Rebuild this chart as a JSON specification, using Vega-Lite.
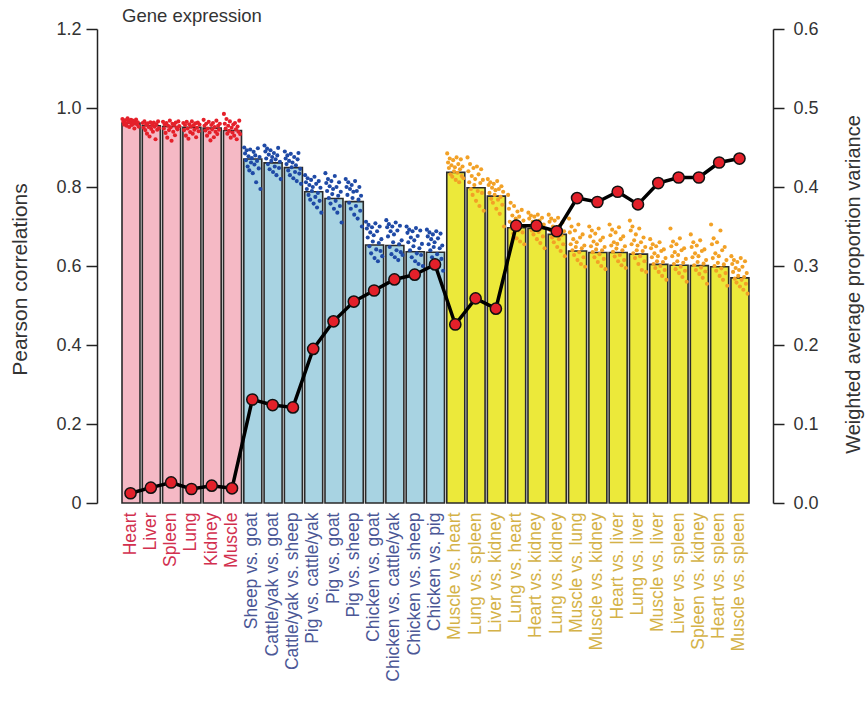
{
"$schema": "https://vega.github.io/schema/vega-lite/v6.json",
"width": 676, "height": 474,
"autosize": "none",
"padding": {"left": 97, "top": 29, "right": 93, "bottom": 209},
"background": "white",
"title": {"text": "Gene expression", "anchor": "start", "frame": "group", "dx": 25, "offset": -5, "fontSize": 18.5, "fontWeight": "normal", "font": "Liberation Sans", "color": "#333333"},
"config": {"view": {"stroke": null}, "axis": {"labelFont": "Liberation Sans", "titleFont": "Liberation Sans", "labelColor": "#333333", "titleColor": "#333333", "titleFontWeight": "normal", "domainColor": "#222222", "tickColor": "#222222", "domainWidth": 1.5, "tickWidth": 1.5, "grid": false}},
"datasets": {
"bars": [
{"cat":"Heart","grp":"Tissue","r":0.962,"w":0.0123},
{"cat":"Liver","grp":"Tissue","r":0.955,"w":0.0194},
{"cat":"Spleen","grp":"Tissue","r":0.953,"w":0.026},
{"cat":"Lung","grp":"Tissue","r":0.951,"w":0.0177},
{"cat":"Kidney","grp":"Tissue","r":0.949,"w":0.0219},
{"cat":"Muscle","grp":"Tissue","r":0.943,"w":0.0186},
{"cat":"Sheep vs. goat","grp":"Species","r":0.871,"w":0.131},
{"cat":"Cattle/yak vs. goat","grp":"Species","r":0.861,"w":0.124},
{"cat":"Cattle/yak vs. sheep","grp":"Species","r":0.849,"w":0.121},
{"cat":"Pig vs. cattle/yak","grp":"Species","r":0.788,"w":0.195},
{"cat":"Pig vs. goat","grp":"Species","r":0.771,"w":0.230},
{"cat":"Pig vs. sheep","grp":"Species","r":0.763,"w":0.255},
{"cat":"Chicken vs. goat","grp":"Species","r":0.653,"w":0.269},
{"cat":"Chicken vs. cattle/yak","grp":"Species","r":0.652,"w":0.283},
{"cat":"Chicken vs. sheep","grp":"Species","r":0.636,"w":0.289},
{"cat":"Chicken vs. pig","grp":"Species","r":0.635,"w":0.302},
{"cat":"Muscle vs. heart","grp":"Pair","r":0.837,"w":0.226},
{"cat":"Lung vs. spleen","grp":"Pair","r":0.798,"w":0.259},
{"cat":"Liver vs. kidney","grp":"Pair","r":0.777,"w":0.246},
{"cat":"Lung vs. heart","grp":"Pair","r":0.697,"w":0.351},
{"cat":"Heart vs. kidney","grp":"Pair","r":0.695,"w":0.351},
{"cat":"Lung vs. kidney","grp":"Pair","r":0.680,"w":0.344},
{"cat":"Muscle vs. lung","grp":"Pair","r":0.638,"w":0.386},
{"cat":"Muscle vs. kidney","grp":"Pair","r":0.634,"w":0.381},
{"cat":"Heart vs. liver","grp":"Pair","r":0.634,"w":0.394},
{"cat":"Lung vs. liver","grp":"Pair","r":0.630,"w":0.378},
{"cat":"Muscle vs. liver","grp":"Pair","r":0.604,"w":0.405},
{"cat":"Liver vs. spleen","grp":"Pair","r":0.602,"w":0.412},
{"cat":"Spleen vs. kidney","grp":"Pair","r":0.601,"w":0.412},
{"cat":"Heart vs. spleen","grp":"Pair","r":0.598,"w":0.431},
{"cat":"Muscle vs. spleen","grp":"Pair","r":0.570,"w":0.436}
],
"dots": [
{"cat":"Heart","v":0.972},{"cat":"Heart","v":0.965},{"cat":"Heart","v":0.958},{"cat":"Heart","v":0.969},{"cat":"Heart","v":0.961},{"cat":"Heart","v":0.955},{"cat":"Heart","v":0.974},{"cat":"Heart","v":0.966},{"cat":"Heart","v":0.952},{"cat":"Heart","v":0.963},{"cat":"Heart","v":0.970},{"cat":"Heart","v":0.957},{"cat":"Heart","v":0.968},{"cat":"Heart","v":0.960},{"cat":"Heart","v":0.948},{"cat":"Heart","v":0.966},{"cat":"Heart","v":0.971},{"cat":"Heart","v":0.959},{"cat":"Heart","v":0.964},{"cat":"Heart","v":0.953},
{"cat":"Liver","v":0.962},{"cat":"Liver","v":0.950},{"cat":"Liver","v":0.966},{"cat":"Liver","v":0.944},{"cat":"Liver","v":0.958},{"cat":"Liver","v":0.935},{"cat":"Liver","v":0.961},{"cat":"Liver","v":0.952},{"cat":"Liver","v":0.928},{"cat":"Liver","v":0.964},{"cat":"Liver","v":0.947},{"cat":"Liver","v":0.957},{"cat":"Liver","v":0.940},{"cat":"Liver","v":0.963},{"cat":"Liver","v":0.953},{"cat":"Liver","v":0.921},{"cat":"Liver","v":0.959},{"cat":"Liver","v":0.945},{"cat":"Liver","v":0.966},{"cat":"Liver","v":0.949},
{"cat":"Spleen","v":0.965},{"cat":"Spleen","v":0.948},{"cat":"Spleen","v":0.958},{"cat":"Spleen","v":0.937},{"cat":"Spleen","v":0.962},{"cat":"Spleen","v":0.925},{"cat":"Spleen","v":0.955},{"cat":"Spleen","v":0.944},{"cat":"Spleen","v":0.968},{"cat":"Spleen","v":0.951},{"cat":"Spleen","v":0.917},{"cat":"Spleen","v":0.960},{"cat":"Spleen","v":0.940},{"cat":"Spleen","v":0.957},{"cat":"Spleen","v":0.931},{"cat":"Spleen","v":0.963},{"cat":"Spleen","v":0.950},{"cat":"Spleen","v":0.946},{"cat":"Spleen","v":0.966},{"cat":"Spleen","v":0.954},
{"cat":"Lung","v":0.962},{"cat":"Lung","v":0.944},{"cat":"Lung","v":0.957},{"cat":"Lung","v":0.930},{"cat":"Lung","v":0.965},{"cat":"Lung","v":0.948},{"cat":"Lung","v":0.922},{"cat":"Lung","v":0.959},{"cat":"Lung","v":0.939},{"cat":"Lung","v":0.953},{"cat":"Lung","v":0.966},{"cat":"Lung","v":0.935},{"cat":"Lung","v":0.956},{"cat":"Lung","v":0.945},{"cat":"Lung","v":0.961},{"cat":"Lung","v":0.926},{"cat":"Lung","v":0.950},{"cat":"Lung","v":0.963},{"cat":"Lung","v":0.941},{"cat":"Lung","v":0.958},
{"cat":"Kidney","v":0.970},{"cat":"Kidney","v":0.955},{"cat":"Kidney","v":0.943},{"cat":"Kidney","v":0.960},{"cat":"Kidney","v":0.930},{"cat":"Kidney","v":0.948},{"cat":"Kidney","v":0.965},{"cat":"Kidney","v":0.938},{"cat":"Kidney","v":0.918},{"cat":"Kidney","v":0.957},{"cat":"Kidney","v":0.946},{"cat":"Kidney","v":0.962},{"cat":"Kidney","v":0.926},{"cat":"Kidney","v":0.952},{"cat":"Kidney","v":0.940},{"cat":"Kidney","v":0.968},{"cat":"Kidney","v":0.934},{"cat":"Kidney","v":0.955},{"cat":"Kidney","v":0.945},{"cat":"Kidney","v":0.960},
{"cat":"Muscle","v":0.985},{"cat":"Muscle","v":0.960},{"cat":"Muscle","v":0.948},{"cat":"Muscle","v":0.972},{"cat":"Muscle","v":0.935},{"cat":"Muscle","v":0.955},{"cat":"Muscle","v":0.942},{"cat":"Muscle","v":0.966},{"cat":"Muscle","v":0.925},{"cat":"Muscle","v":0.950},{"cat":"Muscle","v":0.938},{"cat":"Muscle","v":0.958},{"cat":"Muscle","v":0.930},{"cat":"Muscle","v":0.962},{"cat":"Muscle","v":0.946},{"cat":"Muscle","v":0.921},{"cat":"Muscle","v":0.953},{"cat":"Muscle","v":0.940},{"cat":"Muscle","v":0.968},{"cat":"Muscle","v":0.934},
{"cat":"Sheep vs. goat","v":0.900},{"cat":"Sheep vs. goat","v":0.885},{"cat":"Sheep vs. goat","v":0.868},{"cat":"Sheep vs. goat","v":0.893},{"cat":"Sheep vs. goat","v":0.852},{"cat":"Sheep vs. goat","v":0.878},{"cat":"Sheep vs. goat","v":0.842},{"cat":"Sheep vs. goat","v":0.895},{"cat":"Sheep vs. goat","v":0.862},{"cat":"Sheep vs. goat","v":0.873},{"cat":"Sheep vs. goat","v":0.835},{"cat":"Sheep vs. goat","v":0.889},{"cat":"Sheep vs. goat","v":0.857},{"cat":"Sheep vs. goat","v":0.880},{"cat":"Sheep vs. goat","v":0.812},{"cat":"Sheep vs. goat","v":0.866},{"cat":"Sheep vs. goat","v":0.898},{"cat":"Sheep vs. goat","v":0.847},{"cat":"Sheep vs. goat","v":0.876},{"cat":"Sheep vs. goat","v":0.795},
{"cat":"Cattle/yak vs. goat","v":0.905},{"cat":"Cattle/yak vs. goat","v":0.890},{"cat":"Cattle/yak vs. goat","v":0.872},{"cat":"Cattle/yak vs. goat","v":0.897},{"cat":"Cattle/yak vs. goat","v":0.858},{"cat":"Cattle/yak vs. goat","v":0.882},{"cat":"Cattle/yak vs. goat","v":0.845},{"cat":"Cattle/yak vs. goat","v":0.893},{"cat":"Cattle/yak vs. goat","v":0.866},{"cat":"Cattle/yak vs. goat","v":0.876},{"cat":"Cattle/yak vs. goat","v":0.838},{"cat":"Cattle/yak vs. goat","v":0.886},{"cat":"Cattle/yak vs. goat","v":0.852},{"cat":"Cattle/yak vs. goat","v":0.870},{"cat":"Cattle/yak vs. goat","v":0.830},{"cat":"Cattle/yak vs. goat","v":0.880},{"cat":"Cattle/yak vs. goat","v":0.899},{"cat":"Cattle/yak vs. goat","v":0.848},{"cat":"Cattle/yak vs. goat","v":0.864},{"cat":"Cattle/yak vs. goat","v":0.820},
{"cat":"Cattle/yak vs. sheep","v":0.890},{"cat":"Cattle/yak vs. sheep","v":0.872},{"cat":"Cattle/yak vs. sheep","v":0.858},{"cat":"Cattle/yak vs. sheep","v":0.880},{"cat":"Cattle/yak vs. sheep","v":0.842},{"cat":"Cattle/yak vs. sheep","v":0.866},{"cat":"Cattle/yak vs. sheep","v":0.830},{"cat":"Cattle/yak vs. sheep","v":0.884},{"cat":"Cattle/yak vs. sheep","v":0.850},{"cat":"Cattle/yak vs. sheep","v":0.862},{"cat":"Cattle/yak vs. sheep","v":0.822},{"cat":"Cattle/yak vs. sheep","v":0.876},{"cat":"Cattle/yak vs. sheep","v":0.838},{"cat":"Cattle/yak vs. sheep","v":0.855},{"cat":"Cattle/yak vs. sheep","v":0.815},{"cat":"Cattle/yak vs. sheep","v":0.870},{"cat":"Cattle/yak vs. sheep","v":0.886},{"cat":"Cattle/yak vs. sheep","v":0.834},{"cat":"Cattle/yak vs. sheep","v":0.846},{"cat":"Cattle/yak vs. sheep","v":0.808},
{"cat":"Pig vs. cattle/yak","v":0.830},{"cat":"Pig vs. cattle/yak","v":0.812},{"cat":"Pig vs. cattle/yak","v":0.795},{"cat":"Pig vs. cattle/yak","v":0.822},{"cat":"Pig vs. cattle/yak","v":0.780},{"cat":"Pig vs. cattle/yak","v":0.805},{"cat":"Pig vs. cattle/yak","v":0.768},{"cat":"Pig vs. cattle/yak","v":0.818},{"cat":"Pig vs. cattle/yak","v":0.790},{"cat":"Pig vs. cattle/yak","v":0.800},{"cat":"Pig vs. cattle/yak","v":0.758},{"cat":"Pig vs. cattle/yak","v":0.826},{"cat":"Pig vs. cattle/yak","v":0.775},{"cat":"Pig vs. cattle/yak","v":0.808},{"cat":"Pig vs. cattle/yak","v":0.748},{"cat":"Pig vs. cattle/yak","v":0.785},{"cat":"Pig vs. cattle/yak","v":0.815},{"cat":"Pig vs. cattle/yak","v":0.765},{"cat":"Pig vs. cattle/yak","v":0.798},{"cat":"Pig vs. cattle/yak","v":0.735},
{"cat":"Pig vs. goat","v":0.835},{"cat":"Pig vs. goat","v":0.810},{"cat":"Pig vs. goat","v":0.790},{"cat":"Pig vs. goat","v":0.820},{"cat":"Pig vs. goat","v":0.772},{"cat":"Pig vs. goat","v":0.802},{"cat":"Pig vs. goat","v":0.758},{"cat":"Pig vs. goat","v":0.815},{"cat":"Pig vs. goat","v":0.782},{"cat":"Pig vs. goat","v":0.795},{"cat":"Pig vs. goat","v":0.745},{"cat":"Pig vs. goat","v":0.828},{"cat":"Pig vs. goat","v":0.765},{"cat":"Pig vs. goat","v":0.800},{"cat":"Pig vs. goat","v":0.735},{"cat":"Pig vs. goat","v":0.778},{"cat":"Pig vs. goat","v":0.812},{"cat":"Pig vs. goat","v":0.752},{"cat":"Pig vs. goat","v":0.788},{"cat":"Pig vs. goat","v":0.710},
{"cat":"Pig vs. sheep","v":0.820},{"cat":"Pig vs. sheep","v":0.800},{"cat":"Pig vs. sheep","v":0.780},{"cat":"Pig vs. sheep","v":0.812},{"cat":"Pig vs. sheep","v":0.760},{"cat":"Pig vs. sheep","v":0.795},{"cat":"Pig vs. sheep","v":0.745},{"cat":"Pig vs. sheep","v":0.805},{"cat":"Pig vs. sheep","v":0.772},{"cat":"Pig vs. sheep","v":0.788},{"cat":"Pig vs. sheep","v":0.730},{"cat":"Pig vs. sheep","v":0.815},{"cat":"Pig vs. sheep","v":0.752},{"cat":"Pig vs. sheep","v":0.790},{"cat":"Pig vs. sheep","v":0.720},{"cat":"Pig vs. sheep","v":0.768},{"cat":"Pig vs. sheep","v":0.800},{"cat":"Pig vs. sheep","v":0.740},{"cat":"Pig vs. sheep","v":0.778},{"cat":"Pig vs. sheep","v":0.700},
{"cat":"Chicken vs. goat","v":0.712},{"cat":"Chicken vs. goat","v":0.695},{"cat":"Chicken vs. goat","v":0.672},{"cat":"Chicken vs. goat","v":0.704},{"cat":"Chicken vs. goat","v":0.650},{"cat":"Chicken vs. goat","v":0.685},{"cat":"Chicken vs. goat","v":0.632},{"cat":"Chicken vs. goat","v":0.698},{"cat":"Chicken vs. goat","v":0.662},{"cat":"Chicken vs. goat","v":0.678},{"cat":"Chicken vs. goat","v":0.620},{"cat":"Chicken vs. goat","v":0.708},{"cat":"Chicken vs. goat","v":0.642},{"cat":"Chicken vs. goat","v":0.688},{"cat":"Chicken vs. goat","v":0.612},{"cat":"Chicken vs. goat","v":0.658},{"cat":"Chicken vs. goat","v":0.700},{"cat":"Chicken vs. goat","v":0.638},{"cat":"Chicken vs. goat","v":0.668},{"cat":"Chicken vs. goat","v":0.625},
{"cat":"Chicken vs. cattle/yak","v":0.716},{"cat":"Chicken vs. cattle/yak","v":0.698},{"cat":"Chicken vs. cattle/yak","v":0.675},{"cat":"Chicken vs. cattle/yak","v":0.706},{"cat":"Chicken vs. cattle/yak","v":0.648},{"cat":"Chicken vs. cattle/yak","v":0.688},{"cat":"Chicken vs. cattle/yak","v":0.630},{"cat":"Chicken vs. cattle/yak","v":0.700},{"cat":"Chicken vs. cattle/yak","v":0.660},{"cat":"Chicken vs. cattle/yak","v":0.680},{"cat":"Chicken vs. cattle/yak","v":0.622},{"cat":"Chicken vs. cattle/yak","v":0.710},{"cat":"Chicken vs. cattle/yak","v":0.640},{"cat":"Chicken vs. cattle/yak","v":0.690},{"cat":"Chicken vs. cattle/yak","v":0.615},{"cat":"Chicken vs. cattle/yak","v":0.655},{"cat":"Chicken vs. cattle/yak","v":0.702},{"cat":"Chicken vs. cattle/yak","v":0.635},{"cat":"Chicken vs. cattle/yak","v":0.665},{"cat":"Chicken vs. cattle/yak","v":0.628},
{"cat":"Chicken vs. sheep","v":0.700},{"cat":"Chicken vs. sheep","v":0.684},{"cat":"Chicken vs. sheep","v":0.660},{"cat":"Chicken vs. sheep","v":0.692},{"cat":"Chicken vs. sheep","v":0.640},{"cat":"Chicken vs. sheep","v":0.672},{"cat":"Chicken vs. sheep","v":0.622},{"cat":"Chicken vs. sheep","v":0.688},{"cat":"Chicken vs. sheep","v":0.650},{"cat":"Chicken vs. sheep","v":0.665},{"cat":"Chicken vs. sheep","v":0.612},{"cat":"Chicken vs. sheep","v":0.696},{"cat":"Chicken vs. sheep","v":0.632},{"cat":"Chicken vs. sheep","v":0.676},{"cat":"Chicken vs. sheep","v":0.605},{"cat":"Chicken vs. sheep","v":0.645},{"cat":"Chicken vs. sheep","v":0.690},{"cat":"Chicken vs. sheep","v":0.628},{"cat":"Chicken vs. sheep","v":0.656},{"cat":"Chicken vs. sheep","v":0.600},
{"cat":"Chicken vs. pig","v":0.692},{"cat":"Chicken vs. pig","v":0.675},{"cat":"Chicken vs. pig","v":0.655},{"cat":"Chicken vs. pig","v":0.685},{"cat":"Chicken vs. pig","v":0.640},{"cat":"Chicken vs. pig","v":0.668},{"cat":"Chicken vs. pig","v":0.622},{"cat":"Chicken vs. pig","v":0.680},{"cat":"Chicken vs. pig","v":0.648},{"cat":"Chicken vs. pig","v":0.660},{"cat":"Chicken vs. pig","v":0.610},{"cat":"Chicken vs. pig","v":0.688},{"cat":"Chicken vs. pig","v":0.630},{"cat":"Chicken vs. pig","v":0.670},{"cat":"Chicken vs. pig","v":0.600},{"cat":"Chicken vs. pig","v":0.645},{"cat":"Chicken vs. pig","v":0.682},{"cat":"Chicken vs. pig","v":0.618},{"cat":"Chicken vs. pig","v":0.652},{"cat":"Chicken vs. pig","v":0.588},
{"cat":"Muscle vs. heart","v":0.885},{"cat":"Muscle vs. heart","v":0.862},{"cat":"Muscle vs. heart","v":0.848},{"cat":"Muscle vs. heart","v":0.872},{"cat":"Muscle vs. heart","v":0.832},{"cat":"Muscle vs. heart","v":0.855},{"cat":"Muscle vs. heart","v":0.826},{"cat":"Muscle vs. heart","v":0.868},{"cat":"Muscle vs. heart","v":0.840},{"cat":"Muscle vs. heart","v":0.850},{"cat":"Muscle vs. heart","v":0.818},{"cat":"Muscle vs. heart","v":0.875},{"cat":"Muscle vs. heart","v":0.836},{"cat":"Muscle vs. heart","v":0.858},{"cat":"Muscle vs. heart","v":0.812},{"cat":"Muscle vs. heart","v":0.845},{"cat":"Muscle vs. heart","v":0.870},{"cat":"Muscle vs. heart","v":0.828},{"cat":"Muscle vs. heart","v":0.852},{"cat":"Muscle vs. heart","v":0.822},
{"cat":"Lung vs. spleen","v":0.875},{"cat":"Lung vs. spleen","v":0.840},{"cat":"Lung vs. spleen","v":0.812},{"cat":"Lung vs. spleen","v":0.858},{"cat":"Lung vs. spleen","v":0.795},{"cat":"Lung vs. spleen","v":0.828},{"cat":"Lung vs. spleen","v":0.780},{"cat":"Lung vs. spleen","v":0.848},{"cat":"Lung vs. spleen","v":0.805},{"cat":"Lung vs. spleen","v":0.820},{"cat":"Lung vs. spleen","v":0.765},{"cat":"Lung vs. spleen","v":0.852},{"cat":"Lung vs. spleen","v":0.790},{"cat":"Lung vs. spleen","v":0.832},{"cat":"Lung vs. spleen","v":0.752},{"cat":"Lung vs. spleen","v":0.810},{"cat":"Lung vs. spleen","v":0.845},{"cat":"Lung vs. spleen","v":0.785},{"cat":"Lung vs. spleen","v":0.818},{"cat":"Lung vs. spleen","v":0.740},
{"cat":"Liver vs. kidney","v":0.820},{"cat":"Liver vs. kidney","v":0.805},{"cat":"Liver vs. kidney","v":0.785},{"cat":"Liver vs. kidney","v":0.812},{"cat":"Liver vs. kidney","v":0.770},{"cat":"Liver vs. kidney","v":0.798},{"cat":"Liver vs. kidney","v":0.760},{"cat":"Liver vs. kidney","v":0.808},{"cat":"Liver vs. kidney","v":0.780},{"cat":"Liver vs. kidney","v":0.792},{"cat":"Liver vs. kidney","v":0.745},{"cat":"Liver vs. kidney","v":0.815},{"cat":"Liver vs. kidney","v":0.768},{"cat":"Liver vs. kidney","v":0.795},{"cat":"Liver vs. kidney","v":0.732},{"cat":"Liver vs. kidney","v":0.775},{"cat":"Liver vs. kidney","v":0.802},{"cat":"Liver vs. kidney","v":0.755},{"cat":"Liver vs. kidney","v":0.788},{"cat":"Liver vs. kidney","v":0.700},
{"cat":"Lung vs. heart","v":0.780},{"cat":"Lung vs. heart","v":0.745},{"cat":"Lung vs. heart","v":0.712},{"cat":"Lung vs. heart","v":0.760},{"cat":"Lung vs. heart","v":0.695},{"cat":"Lung vs. heart","v":0.728},{"cat":"Lung vs. heart","v":0.682},{"cat":"Lung vs. heart","v":0.752},{"cat":"Lung vs. heart","v":0.705},{"cat":"Lung vs. heart","v":0.720},{"cat":"Lung vs. heart","v":0.670},{"cat":"Lung vs. heart","v":0.738},{"cat":"Lung vs. heart","v":0.690},{"cat":"Lung vs. heart","v":0.725},{"cat":"Lung vs. heart","v":0.662},{"cat":"Lung vs. heart","v":0.700},{"cat":"Lung vs. heart","v":0.742},{"cat":"Lung vs. heart","v":0.685},{"cat":"Lung vs. heart","v":0.715},{"cat":"Lung vs. heart","v":0.655},
{"cat":"Heart vs. kidney","v":0.735},{"cat":"Heart vs. kidney","v":0.720},{"cat":"Heart vs. kidney","v":0.702},{"cat":"Heart vs. kidney","v":0.728},{"cat":"Heart vs. kidney","v":0.690},{"cat":"Heart vs. kidney","v":0.712},{"cat":"Heart vs. kidney","v":0.680},{"cat":"Heart vs. kidney","v":0.725},{"cat":"Heart vs. kidney","v":0.698},{"cat":"Heart vs. kidney","v":0.708},{"cat":"Heart vs. kidney","v":0.668},{"cat":"Heart vs. kidney","v":0.730},{"cat":"Heart vs. kidney","v":0.686},{"cat":"Heart vs. kidney","v":0.715},{"cat":"Heart vs. kidney","v":0.658},{"cat":"Heart vs. kidney","v":0.695},{"cat":"Heart vs. kidney","v":0.722},{"cat":"Heart vs. kidney","v":0.675},{"cat":"Heart vs. kidney","v":0.705},{"cat":"Heart vs. kidney","v":0.645},
{"cat":"Lung vs. kidney","v":0.730},{"cat":"Lung vs. kidney","v":0.712},{"cat":"Lung vs. kidney","v":0.690},{"cat":"Lung vs. kidney","v":0.720},{"cat":"Lung vs. kidney","v":0.672},{"cat":"Lung vs. kidney","v":0.700},{"cat":"Lung vs. kidney","v":0.660},{"cat":"Lung vs. kidney","v":0.715},{"cat":"Lung vs. kidney","v":0.682},{"cat":"Lung vs. kidney","v":0.695},{"cat":"Lung vs. kidney","v":0.648},{"cat":"Lung vs. kidney","v":0.722},{"cat":"Lung vs. kidney","v":0.668},{"cat":"Lung vs. kidney","v":0.702},{"cat":"Lung vs. kidney","v":0.638},{"cat":"Lung vs. kidney","v":0.678},{"cat":"Lung vs. kidney","v":0.710},{"cat":"Lung vs. kidney","v":0.655},{"cat":"Lung vs. kidney","v":0.688},{"cat":"Lung vs. kidney","v":0.625},
{"cat":"Muscle vs. lung","v":0.720},{"cat":"Muscle vs. lung","v":0.685},{"cat":"Muscle vs. lung","v":0.655},{"cat":"Muscle vs. lung","v":0.700},{"cat":"Muscle vs. lung","v":0.640},{"cat":"Muscle vs. lung","v":0.668},{"cat":"Muscle vs. lung","v":0.628},{"cat":"Muscle vs. lung","v":0.690},{"cat":"Muscle vs. lung","v":0.648},{"cat":"Muscle vs. lung","v":0.660},{"cat":"Muscle vs. lung","v":0.615},{"cat":"Muscle vs. lung","v":0.705},{"cat":"Muscle vs. lung","v":0.635},{"cat":"Muscle vs. lung","v":0.672},{"cat":"Muscle vs. lung","v":0.605},{"cat":"Muscle vs. lung","v":0.645},{"cat":"Muscle vs. lung","v":0.680},{"cat":"Muscle vs. lung","v":0.622},{"cat":"Muscle vs. lung","v":0.652},{"cat":"Muscle vs. lung","v":0.598},
{"cat":"Muscle vs. kidney","v":0.700},{"cat":"Muscle vs. kidney","v":0.675},{"cat":"Muscle vs. kidney","v":0.650},{"cat":"Muscle vs. kidney","v":0.690},{"cat":"Muscle vs. kidney","v":0.635},{"cat":"Muscle vs. kidney","v":0.662},{"cat":"Muscle vs. kidney","v":0.622},{"cat":"Muscle vs. kidney","v":0.682},{"cat":"Muscle vs. kidney","v":0.642},{"cat":"Muscle vs. kidney","v":0.655},{"cat":"Muscle vs. kidney","v":0.610},{"cat":"Muscle vs. kidney","v":0.695},{"cat":"Muscle vs. kidney","v":0.630},{"cat":"Muscle vs. kidney","v":0.665},{"cat":"Muscle vs. kidney","v":0.600},{"cat":"Muscle vs. kidney","v":0.640},{"cat":"Muscle vs. kidney","v":0.672},{"cat":"Muscle vs. kidney","v":0.618},{"cat":"Muscle vs. kidney","v":0.648},{"cat":"Muscle vs. kidney","v":0.592},
{"cat":"Heart vs. liver","v":0.705},{"cat":"Heart vs. liver","v":0.678},{"cat":"Heart vs. liver","v":0.652},{"cat":"Heart vs. liver","v":0.692},{"cat":"Heart vs. liver","v":0.636},{"cat":"Heart vs. liver","v":0.660},{"cat":"Heart vs. liver","v":0.624},{"cat":"Heart vs. liver","v":0.685},{"cat":"Heart vs. liver","v":0.644},{"cat":"Heart vs. liver","v":0.656},{"cat":"Heart vs. liver","v":0.612},{"cat":"Heart vs. liver","v":0.698},{"cat":"Heart vs. liver","v":0.628},{"cat":"Heart vs. liver","v":0.668},{"cat":"Heart vs. liver","v":0.602},{"cat":"Heart vs. liver","v":0.640},{"cat":"Heart vs. liver","v":0.675},{"cat":"Heart vs. liver","v":0.615},{"cat":"Heart vs. liver","v":0.650},{"cat":"Heart vs. liver","v":0.595},
{"cat":"Lung vs. liver","v":0.715},{"cat":"Lung vs. liver","v":0.690},{"cat":"Lung vs. liver","v":0.655},{"cat":"Lung vs. liver","v":0.700},{"cat":"Lung vs. liver","v":0.632},{"cat":"Lung vs. liver","v":0.665},{"cat":"Lung vs. liver","v":0.620},{"cat":"Lung vs. liver","v":0.680},{"cat":"Lung vs. liver","v":0.640},{"cat":"Lung vs. liver","v":0.652},{"cat":"Lung vs. liver","v":0.605},{"cat":"Lung vs. liver","v":0.695},{"cat":"Lung vs. liver","v":0.625},{"cat":"Lung vs. liver","v":0.660},{"cat":"Lung vs. liver","v":0.590},{"cat":"Lung vs. liver","v":0.638},{"cat":"Lung vs. liver","v":0.672},{"cat":"Lung vs. liver","v":0.612},{"cat":"Lung vs. liver","v":0.648},{"cat":"Lung vs. liver","v":0.585},
{"cat":"Muscle vs. liver","v":0.668},{"cat":"Muscle vs. liver","v":0.645},{"cat":"Muscle vs. liver","v":0.622},{"cat":"Muscle vs. liver","v":0.655},{"cat":"Muscle vs. liver","v":0.605},{"cat":"Muscle vs. liver","v":0.632},{"cat":"Muscle vs. liver","v":0.595},{"cat":"Muscle vs. liver","v":0.650},{"cat":"Muscle vs. liver","v":0.612},{"cat":"Muscle vs. liver","v":0.625},{"cat":"Muscle vs. liver","v":0.585},{"cat":"Muscle vs. liver","v":0.660},{"cat":"Muscle vs. liver","v":0.600},{"cat":"Muscle vs. liver","v":0.638},{"cat":"Muscle vs. liver","v":0.575},{"cat":"Muscle vs. liver","v":0.610},{"cat":"Muscle vs. liver","v":0.642},{"cat":"Muscle vs. liver","v":0.590},{"cat":"Muscle vs. liver","v":0.620},{"cat":"Muscle vs. liver","v":0.565},
{"cat":"Liver vs. spleen","v":0.695},{"cat":"Liver vs. spleen","v":0.650},{"cat":"Liver vs. spleen","v":0.625},{"cat":"Liver vs. spleen","v":0.662},{"cat":"Liver vs. spleen","v":0.605},{"cat":"Liver vs. spleen","v":0.635},{"cat":"Liver vs. spleen","v":0.592},{"cat":"Liver vs. spleen","v":0.655},{"cat":"Liver vs. spleen","v":0.612},{"cat":"Liver vs. spleen","v":0.628},{"cat":"Liver vs. spleen","v":0.582},{"cat":"Liver vs. spleen","v":0.670},{"cat":"Liver vs. spleen","v":0.598},{"cat":"Liver vs. spleen","v":0.640},{"cat":"Liver vs. spleen","v":0.572},{"cat":"Liver vs. spleen","v":0.608},{"cat":"Liver vs. spleen","v":0.645},{"cat":"Liver vs. spleen","v":0.588},{"cat":"Liver vs. spleen","v":0.618},{"cat":"Liver vs. spleen","v":0.560},
{"cat":"Spleen vs. kidney","v":0.680},{"cat":"Spleen vs. kidney","v":0.648},{"cat":"Spleen vs. kidney","v":0.622},{"cat":"Spleen vs. kidney","v":0.660},{"cat":"Spleen vs. kidney","v":0.602},{"cat":"Spleen vs. kidney","v":0.632},{"cat":"Spleen vs. kidney","v":0.590},{"cat":"Spleen vs. kidney","v":0.652},{"cat":"Spleen vs. kidney","v":0.610},{"cat":"Spleen vs. kidney","v":0.625},{"cat":"Spleen vs. kidney","v":0.580},{"cat":"Spleen vs. kidney","v":0.665},{"cat":"Spleen vs. kidney","v":0.596},{"cat":"Spleen vs. kidney","v":0.638},{"cat":"Spleen vs. kidney","v":0.570},{"cat":"Spleen vs. kidney","v":0.606},{"cat":"Spleen vs. kidney","v":0.642},{"cat":"Spleen vs. kidney","v":0.586},{"cat":"Spleen vs. kidney","v":0.615},{"cat":"Spleen vs. kidney","v":0.555},
{"cat":"Heart vs. spleen","v":0.705},{"cat":"Heart vs. spleen","v":0.655},{"cat":"Heart vs. spleen","v":0.620},{"cat":"Heart vs. spleen","v":0.670},{"cat":"Heart vs. spleen","v":0.600},{"cat":"Heart vs. spleen","v":0.632},{"cat":"Heart vs. spleen","v":0.588},{"cat":"Heart vs. spleen","v":0.660},{"cat":"Heart vs. spleen","v":0.608},{"cat":"Heart vs. spleen","v":0.625},{"cat":"Heart vs. spleen","v":0.575},{"cat":"Heart vs. spleen","v":0.690},{"cat":"Heart vs. spleen","v":0.594},{"cat":"Heart vs. spleen","v":0.640},{"cat":"Heart vs. spleen","v":0.565},{"cat":"Heart vs. spleen","v":0.604},{"cat":"Heart vs. spleen","v":0.648},{"cat":"Heart vs. spleen","v":0.582},{"cat":"Heart vs. spleen","v":0.615},{"cat":"Heart vs. spleen","v":0.550},
{"cat":"Muscle vs. spleen","v":0.625},{"cat":"Muscle vs. spleen","v":0.605},{"cat":"Muscle vs. spleen","v":0.585},{"cat":"Muscle vs. spleen","v":0.615},{"cat":"Muscle vs. spleen","v":0.568},{"cat":"Muscle vs. spleen","v":0.595},{"cat":"Muscle vs. spleen","v":0.558},{"cat":"Muscle vs. spleen","v":0.610},{"cat":"Muscle vs. spleen","v":0.575},{"cat":"Muscle vs. spleen","v":0.590},{"cat":"Muscle vs. spleen","v":0.548},{"cat":"Muscle vs. spleen","v":0.620},{"cat":"Muscle vs. spleen","v":0.565},{"cat":"Muscle vs. spleen","v":0.598},{"cat":"Muscle vs. spleen","v":0.540},{"cat":"Muscle vs. spleen","v":0.572},{"cat":"Muscle vs. spleen","v":0.612},{"cat":"Muscle vs. spleen","v":0.555},{"cat":"Muscle vs. spleen","v":0.582},{"cat":"Muscle vs. spleen","v":0.530}
]
},
"layer": [
{
"layer": [
{
"data": {"name": "bars"},
"mark": {"type": "bar", "stroke": "#2a2a2a", "strokeWidth": 1.6},
"encoding": {
"x": {"field": "cat", "type": "nominal",
"scale": {"domain": ["Heart","Liver","Spleen","Lung","Kidney","Muscle","Sheep vs. goat","Cattle/yak vs. goat","Cattle/yak vs. sheep","Pig vs. cattle/yak","Pig vs. goat","Pig vs. sheep","Chicken vs. goat","Chicken vs. cattle/yak","Chicken vs. sheep","Chicken vs. pig","Muscle vs. heart","Lung vs. spleen","Liver vs. kidney","Lung vs. heart","Heart vs. kidney","Lung vs. kidney","Muscle vs. lung","Muscle vs. kidney","Heart vs. liver","Lung vs. liver","Muscle vs. liver","Liver vs. spleen","Spleen vs. kidney","Heart vs. spleen","Muscle vs. spleen"], "paddingInner": 0.16, "paddingOuter": 0, "range": [25, 651]},
"axis": {"title": null, "orient": "bottom", "domain": false, "ticks": false, "labelAngle": -90, "labelFontSize": 17.5, "labelPadding": 9, "labelLimit": 300,
"labelColor": {"condition": [{"test": "indexof(datum.value, ' vs. ') < 0", "value": "#d2304f"}, {"test": "test(/Sheep|Cattle|Pig|Chicken/, datum.value)", "value": "#4b5796"}], "value": "#d4b248"}}},
"y": {"field": "r", "type": "quantitative", "scale": {"domain": [0, 1.2], "nice": false},
"axis": {"title": "Pearson correlations", "orient": "left", "values": [0, 0.2, 0.4, 0.6, 0.8, 1.0, 1.2], "labelExpr": "datum.value == 0 ? '0' : format(datum.value, '.1f')", "labelFontSize": 18, "tickSize": 11, "labelPadding": 5, "titleFontSize": 21, "titlePadding": 25, "titleY": 250}},
"fill": {"field": "grp", "type": "nominal", "scale": {"domain": ["Tissue", "Species", "Pair"], "range": ["#f5b9c5", "#a8d3e2", "#ece93a"]}, "legend": null}
}
},
{
"data": {"name": "dots"},
"transform": [
{"lookup": "cat", "from": {"data": {"name": "bars"}, "key": "cat", "fields": ["grp"]}},
{"window": [{"op": "row_number", "as": "j"}], "groupby": ["cat"]}
],
"mark": {"type": "circle", "size": 17, "opacity": 1},
"encoding": {
"x": {"field": "cat", "type": "nominal"},
"xOffset": {"field": "j", "type": "ordinal"},
"y": {"field": "v", "type": "quantitative"},
"color": {"field": "grp", "type": "nominal", "scale": {"domain": ["Tissue", "Species", "Pair"], "range": ["#e5202a", "#1f4aa6", "#f2a126"]}, "legend": null}
}
}
]
},
{
"data": {"name": "bars"},
"layer": [
{
"mark": {"type": "line", "color": "#000000", "strokeWidth": 3.5},
"encoding": {
"x": {"field": "cat", "type": "nominal"},
"y": {"field": "w", "type": "quantitative", "scale": {"domain": [0, 0.6], "nice": false},
"axis": {"title": "Weighted average proportion variance", "orient": "right", "values": [0, 0.1, 0.2, 0.3, 0.4, 0.5, 0.6], "format": ".1f", "labelFontSize": 18, "tickSize": 11, "labelPadding": 9, "titleFontSize": 20, "titlePadding": 45, "titleAngle": 270, "titleY": 255}}
}
},
{
"mark": {"type": "point", "filled": true, "size": 125, "fill": "#e3202a", "stroke": "#111111", "strokeWidth": 1.5, "opacity": 1},
"encoding": {
"x": {"field": "cat", "type": "nominal"},
"y": {"field": "w", "type": "quantitative"}
}
}
]
}
],
"resolve": {"scale": {"y": "independent"}}
}
